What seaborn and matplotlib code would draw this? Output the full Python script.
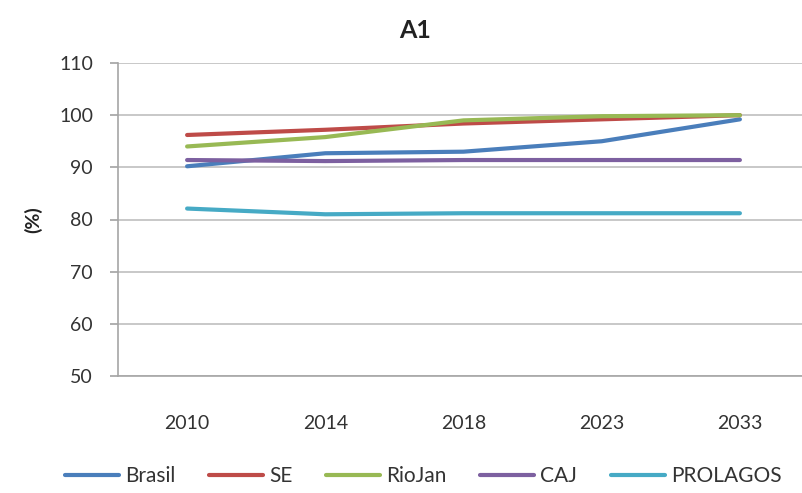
import matplotlib
matplotlib.use("Agg")
import matplotlib.pyplot as plt
import seaborn as sns
import pandas as pd
from matplotlib.lines import Line2D

years = ["2010", "2014", "2018", "2023", "2033"]
brasil = [90.2, 92.7, 93.0, 95.0, 99.2]
se = [96.2, 97.2, 98.4, 99.2, 100.0]
riojan = [94.0, 95.8, 99.0, 99.8, 100.0]
caj = [91.4, 91.2, 91.4, 91.4, 91.4]
prolagos = [82.1, 81.0, 81.2, 81.2, 81.2]

series_names = ["Brasil", "SE", "RioJan", "CAJ", "PROLAGOS"]
series_values = [brasil, se, riojan, caj, prolagos]
colors = ["#4A7EBB", "#BE4B48", "#98B954", "#7D60A0", "#46AAC5"]

rows = []
for name, vals in zip(series_names, series_values):
    for y, v in zip(years, vals):
        rows.append({"Ano": y, "Valor": v, "Serie": name})
df = pd.DataFrame(rows)

sns.set_theme(style="white")
plt.rcParams["font.family"] = ["Lato", "DejaVu Sans"]

fig = plt.figure(figsize=(8.03, 4.93), dpi=100)
ax = fig.add_axes([118/803, (493-376)/493, 691/803, (376-63)/493])

sns.lineplot(data=df, x="Ano", y="Valor", hue="Serie", hue_order=series_names,
             palette=colors, linewidth=3, ax=ax, legend=False, sort=False)

ax.set_xlim(-0.5, 4.5)
ax.set_ylim(50, 110)
ax.set_yticks(range(50, 111, 10))
ax.yaxis.grid(True, color="#bfbfbf", linewidth=1.2)
ax.set_axisbelow(True)
for s in ["top", "right"]:
    ax.spines[s].set_visible(False)
ax.spines["left"].set_color("#a6a6a6")
ax.spines["bottom"].set_color("#a6a6a6")
ax.spines["left"].set_linewidth(1.2)
ax.spines["bottom"].set_linewidth(1.2)
ax.tick_params(axis="y", which="both", left=True, length=6, color="#a6a6a6",
               labelsize=14, labelcolor="#333333", pad=12)
ax.tick_params(axis="x", bottom=False, labelsize=14, labelcolor="#333333", pad=22)
ax.set_xlabel("")
ax.set_ylabel("(%)", fontsize=14, fontweight="bold", labelpad=12, color="#222222")

fig.text(0.517, 1 - 31/493, "A1", ha="center", va="center", fontsize=18,
         fontweight="bold", color="#222222")

handles = [Line2D([0], [0], color=c, linewidth=3) for c in colors]
fig.legend(handles, series_names, loc="center", bbox_to_anchor=(0.527, 1 - 476/493),
           ncol=5, frameon=False, fontsize=15, handlelength=2.6, handletextpad=0.3,
           columnspacing=1.6, labelcolor="#333333")

fig.savefig("out.png", dpi=100, facecolor="white")
